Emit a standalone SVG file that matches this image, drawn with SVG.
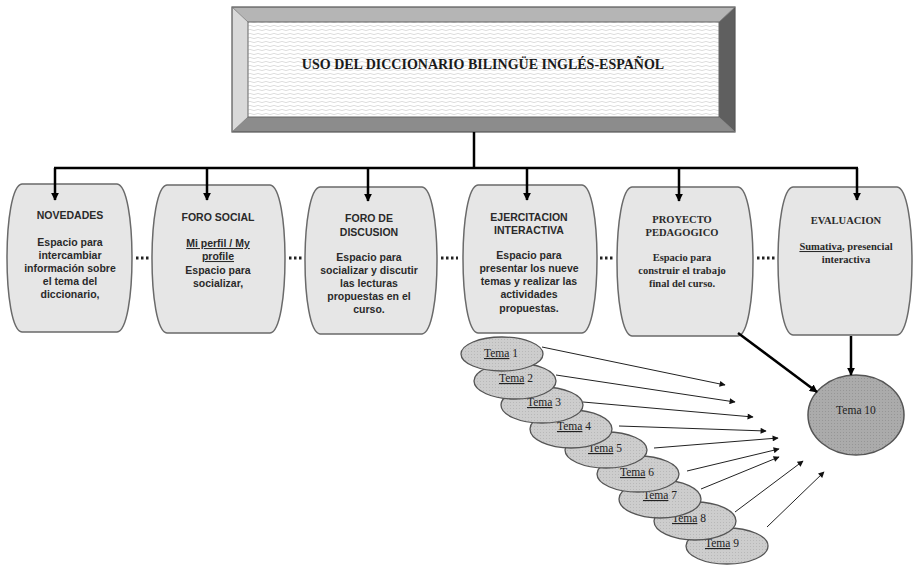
<svg xmlns="http://www.w3.org/2000/svg" width="914" height="565" viewBox="0 0 914 565">
<defs>
<pattern id="wave" width="8" height="4" patternUnits="userSpaceOnUse">
<rect width="8" height="4" fill="#ffffff"/>
<path d="M0,2 Q2,0.8 4,2 T8,2" fill="none" stroke="#d4d4d4" stroke-width="0.8"/>
</pattern>
<pattern id="dots" width="3" height="3" patternUnits="userSpaceOnUse">
<rect width="3" height="3" fill="#cdcdcd"/>
<rect width="1" height="1" fill="#b8b8b8"/>
</pattern>
<pattern id="dots2" width="3" height="3" patternUnits="userSpaceOnUse">
<rect width="3" height="3" fill="#ababab"/>
<rect width="1" height="1" fill="#969696"/>
</pattern>
<marker id="ah" viewBox="0 0 10 10" refX="9" refY="5" markerWidth="3.2" markerHeight="3.2" orient="auto" markerUnits="strokeWidth">
<path d="M0,0 L10,5 L0,10 Z" fill="#000"/>
</marker>
<marker id="ahs" viewBox="0 0 10 10" refX="9" refY="5" markerWidth="7" markerHeight="6" orient="auto" markerUnits="strokeWidth">
<path d="M0,0 L10,5 L0,10 Z" fill="#111"/>
</marker>
</defs>
<style>
.node{fill:#e6e6e6;stroke:#6a6a6a;stroke-width:1.5}
.sans{font-family:"Liberation Sans",Arial,sans-serif;font-weight:bold;font-size:10.5px;fill:#2a2a2a;text-anchor:middle}
.serif{font-family:"Liberation Serif","Times New Roman",serif;font-weight:bold;font-size:10.5px;fill:#2a2a2a;text-anchor:middle}
.tema{font-family:"Liberation Serif","Times New Roman",serif;font-size:11.5px;fill:#222;text-anchor:middle}
.ell{fill:url(#dots);stroke:#555;stroke-width:1.3}
.thick{stroke:#000;stroke-width:2.5;fill:none}
.thin{stroke:#222;stroke-width:1;fill:none}
.dotted{stroke:#222;stroke-width:3;stroke-dasharray:2.5 2.5;fill:none}
.u{text-decoration:underline}
</style>

<g id="title">
<polygon points="232,7 735,7 719,22 248,22" fill="#b5b5b5"/>
<polygon points="232,7 248,22 248,117 232,132" fill="#d9d9d9"/>
<polygon points="735,7 735,132 719,117 719,22" fill="#5f5f5f"/>
<polygon points="232,132 248,117 719,117 735,132" fill="#8c8c8c"/>
<rect x="248" y="22" width="471" height="95" fill="url(#wave)" stroke="#666" stroke-width="1"/>
<rect x="232" y="7" width="503" height="125" fill="none" stroke="#555" stroke-width="1.2"/>
<line x1="232" y1="7" x2="248" y2="22" stroke="#777" stroke-width="0.8"/>
<line x1="735" y1="7" x2="719" y2="22" stroke="#777" stroke-width="0.8"/>
<line x1="232" y1="132" x2="248" y2="117" stroke="#777" stroke-width="0.8"/>
<line x1="735" y1="132" x2="719" y2="117" stroke="#777" stroke-width="0.8"/>
<text x="483" y="69" font-family="'Liberation Serif','Times New Roman',serif" font-weight="bold" font-size="14" fill="#1a1a1a" text-anchor="middle">USO DEL DICCIONARIO BILINGÜE INGLÉS-ESPAÑOL</text>
</g>

<g id="novedades">
<path class="node" d="M22,184 H117 C137,186 137,330 117,332 H22 C2,330 2,186 22,184 Z"/>
<text class="sans" x="70" y="219">NOVEDADES</text>
<text class="sans" x="70" y="246">Espacio para</text>
<text class="sans" x="70" y="259">intercambiar</text>
<text class="sans" x="70" y="272">información sobre</text>
<text class="sans" x="70" y="285">el tema del</text>
<text class="sans" x="70" y="298">diccionario,</text>
</g>

<g id="foro-social">
<path class="node" d="M167,185 H270 C290,187 290,331 270,333 H167 C147,331 147,187 167,185 Z"/>
<text class="sans" x="218" y="221">FORO SOCIAL</text>
<text class="sans u" x="218" y="247">Mi perfil / My</text>
<text class="sans u" x="218" y="260">profile</text>
<text class="sans" x="218" y="274">Espacio para</text>
<text class="sans" x="218" y="287">socializar,</text>
</g>

<g id="foro-discusion">
<path class="node" d="M320,187 H422 C442,189 442,332 422,334 H320 C300,332 300,189 320,187 Z"/>
<text class="sans" x="369" y="222">FORO DE</text>
<text class="sans" x="369" y="236">DISCUSION</text>
<text class="sans" x="369" y="261">Espacio para</text>
<text class="sans" x="369" y="274">socializar y discutir</text>
<text class="sans" x="369" y="287">las lecturas</text>
<text class="sans" x="369" y="300">propuestas en el</text>
<text class="sans" x="369" y="313">curso.</text>
</g>

<g id="ejercitacion">
<path class="node" d="M478,185 H582 C602,187 602,331 582,333 H478 C458,331 458,187 478,185 Z"/>
<text class="sans" x="529" y="221">EJERCITACION</text>
<text class="sans" x="529" y="234">INTERACTIVA</text>
<text class="sans" x="529" y="259">Espacio para</text>
<text class="sans" x="529" y="272">presentar los nueve</text>
<text class="sans" x="529" y="285">temas y realizar las</text>
<text class="sans" x="529" y="298">actividades</text>
<text class="sans" x="529" y="312">propuestas.</text>
</g>

<g id="proyecto">
<path class="node" d="M632,187 H738 C758,189 758,334 738,336 H632 C612,334 612,189 632,187 Z"/>
<text class="serif" x="682" y="223">PROYECTO</text>
<text class="serif" x="682" y="236">PEDAGOGICO</text>
<text class="serif" x="682" y="261">Espacio para</text>
<text class="serif" x="682" y="274">construir el trabajo</text>
<text class="serif" x="682" y="287">final del curso.</text>
</g>

<g id="evaluacion">
<path class="node" d="M793,187 H897 C917,189 917,333 897,335 H793 C773,333 773,189 793,187 Z"/>
<text class="serif" x="846" y="224">EVALUACION</text>
<text class="serif" x="846" y="250"><tspan class="u">Sumativa</tspan>, presencial</text>
<text class="serif" x="846" y="263">interactiva</text>
</g>

<g id="temas">
<g id="tema9"><ellipse class="ell" cx="727" cy="546" rx="41" ry="18"/><text class="tema" x="722" y="547"><tspan class="u">Tema</tspan> 9</text></g>
<g id="tema8"><ellipse class="ell" cx="695" cy="521" rx="41" ry="19"/><text class="tema" x="689" y="522"><tspan class="u">Tema</tspan> 8</text></g>
<g id="tema7"><ellipse class="ell" cx="660" cy="499" rx="41" ry="19"/><text class="tema" x="660" y="499"><tspan class="u">Tema</tspan> 7</text></g>
<g id="tema6"><ellipse class="ell" cx="638" cy="474" rx="41" ry="18"/><text class="tema" x="637" y="476"><tspan class="u">Tema</tspan> 6</text></g>
<g id="tema5"><ellipse class="ell" cx="606" cy="450" rx="41" ry="18"/><text class="tema" x="605" y="452"><tspan class="u">Tema</tspan> 5</text></g>
<g id="tema4"><ellipse class="ell" cx="571" cy="429" rx="41" ry="19"/><text class="tema" x="574" y="430"><tspan class="u">Tema</tspan> 4</text></g>
<g id="tema3"><ellipse class="ell" cx="542" cy="405" rx="41" ry="18"/><text class="tema" x="544" y="406"><tspan class="u">Tema</tspan> 3</text></g>
<g id="tema2"><ellipse class="ell" cx="515" cy="381" rx="41" ry="18"/><text class="tema" x="516" y="382"><tspan class="u">Tema</tspan> 2</text></g>
<g id="tema1"><ellipse class="ell" cx="502" cy="354" rx="41" ry="17"/><text class="tema" x="501" y="357"><tspan class="u">Tema</tspan> 1</text></g>
</g>

<g id="tema10">
<ellipse cx="856" cy="415" rx="48" ry="40" fill="url(#dots2)" stroke="#555" stroke-width="1.5"/>
<text class="tema" x="856" y="414">Tema 10</text>
</g>

<g id="connectors">
<line class="thick" x1="474" y1="132" x2="474" y2="168"/>
<line class="thick" x1="54" y1="168" x2="858" y2="168"/>
<line class="thick" x1="55" y1="168" x2="55" y2="200" marker-end="url(#ah)"/>
<line class="thick" x1="207" y1="168" x2="207" y2="200" marker-end="url(#ah)"/>
<line class="thick" x1="368" y1="168" x2="368" y2="201" marker-end="url(#ah)"/>
<line class="thick" x1="527" y1="168" x2="527" y2="200" marker-end="url(#ah)"/>
<line class="thick" x1="679" y1="168" x2="679" y2="201" marker-end="url(#ah)"/>
<line class="thick" x1="857" y1="168" x2="857" y2="200" marker-end="url(#ah)"/>
<line class="dotted" x1="136" y1="258" x2="150" y2="258"/>
<line class="dotted" x1="289" y1="258" x2="303" y2="258"/>
<line class="dotted" x1="441" y1="258" x2="458" y2="258"/>
<line class="dotted" x1="600" y1="258" x2="614" y2="258"/>
<line class="dotted" x1="757" y1="258" x2="775" y2="258"/>
<line class="thin" x1="542" y1="347" x2="725" y2="385" marker-end="url(#ahs)"/>
<line class="thin" x1="556" y1="375" x2="735" y2="402" marker-end="url(#ahs)"/>
<line class="thin" x1="583" y1="402" x2="753" y2="417" marker-end="url(#ahs)"/>
<line class="thin" x1="619" y1="426" x2="766" y2="431" marker-end="url(#ahs)"/>
<line class="thin" x1="654" y1="448" x2="778" y2="438" marker-end="url(#ahs)"/>
<line class="thin" x1="687" y1="471" x2="779" y2="449" marker-end="url(#ahs)"/>
<line class="thin" x1="701" y1="489" x2="779" y2="457" marker-end="url(#ahs)"/>
<line class="thin" x1="735" y1="512" x2="803" y2="461" marker-end="url(#ahs)"/>
<line class="thin" x1="767" y1="527" x2="824" y2="472" marker-end="url(#ahs)"/>
<line class="thick" x1="738" y1="333" x2="817" y2="392" marker-end="url(#ah)"/>
<line class="thick" x1="851" y1="336" x2="851" y2="375" marker-end="url(#ah)"/>
</g>
</svg>
